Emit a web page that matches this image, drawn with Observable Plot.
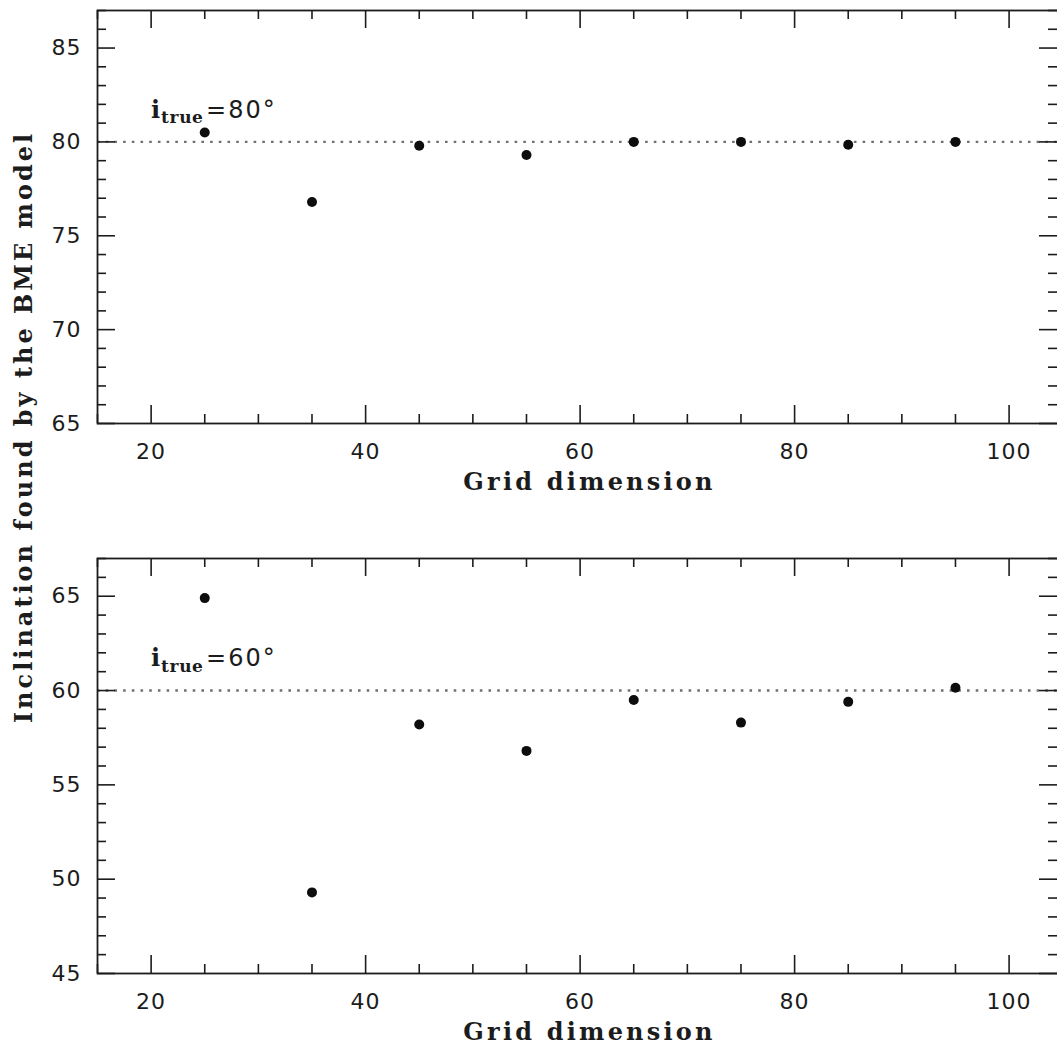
<!DOCTYPE html>
<html>
<head>
<meta charset="utf-8">
<script src="https://cdn.jsdelivr.net/npm/d3@7"></script>
<script src="https://cdn.jsdelivr.net/npm/@observablehq/plot@0.6"></script>
<style>
  body { margin: 0; background: #fff; }
  #fig { position: relative; width: 1057px; height: 1047px; overflow: hidden; background: #fff; }
  #fig > svg.plot-panel { display: block; max-width: none; }
  #ylab { position: absolute; left: 0; top: 0; z-index: 2; pointer-events: none; }
</style>
</head>
<body>
<div id="fig"></div>
<script>
// Grid dimensions tested and the inclinations recovered by the BME model
const gridDim = [25, 35, 45, 55, 65, 75, 85, 95];
const incl80 = [80.5, 76.8, 79.8, 79.3, 80.0, 80.0, 79.85, 80.0];
const incl60 = [64.9, 49.3, 58.2, 56.8, 59.5, 58.3, 59.4, 60.15];

// Axis tick values
const xTickLabels = [20, 40, 60, 80, 100];
const yTicksTop = [65, 70, 75, 80, 85];
const yTicksBottom = [45, 50, 55, 60, 65];

// the frame runs slightly past the right edge of the figure
const xDomain = [15, 104.7];
const W = 1059, ML = 97, MR = 0;
const INK = "#1c1c1c";
const serif = "'DejaVu Serif', serif";
const sans = "'DejaVu Sans', 'Liberation Sans', sans-serif";

function panel({ values, trueInc, yDomain, yTicks, marginTop, innerH, height }) {
  const marginBottom = height - marginTop - innerH;
  const innerW = W - ML - MR;
  const rows = gridDim.map((g, i) => ({ g, v: values[i] }));
  const xMajor = d3.range(20, 105, 20);
  const xMinor = d3.range(15, 105, 5).filter(d => d % 20 !== 0);
  const yMajor = d3.range(yDomain[0], yDomain[1] + 0.01, 5);
  const yMinor = d3.range(yDomain[0], yDomain[1] + 0.01, 1).filter(d => (d - yDomain[0]) % 5 !== 0);
  const tk = { stroke: INK, strokeWidth: 1.6 };
  const rightTk = { stroke: INK, strokeWidth: 1.6, dx: -2 };
  const ann = [{ x: 20, y: trueInc + 1.7 }];
  return Plot.plot({
    width: W,
    height,
    marginLeft: ML,
    marginRight: MR,
    marginTop,
    marginBottom,
    x: { domain: xDomain, axis: null },
    y: { domain: yDomain, axis: null },
    style: { background: "transparent", fontFamily: sans, fontSize: "22px", color: INK },
    marks: [
      // true inclination reference
      Plot.ruleY([trueInc], { stroke: "#707070", strokeWidth: 2.4, strokeDasharray: "2.6 6.1" }),
      // inward ticks on all four sides
      Plot.tickX(xMajor, { x: d => d, insetTop: innerH - 18, ...tk }),
      Plot.tickX(xMinor, { x: d => d, insetTop: innerH - 9, ...tk }),
      Plot.tickX(xMajor, { x: d => d, insetBottom: innerH - 18, ...tk }),
      Plot.tickX(xMinor, { x: d => d, insetBottom: innerH - 9, ...tk }),
      Plot.tickY(yMajor, { y: d => d, insetRight: innerW - 18, ...tk }),
      Plot.tickY(yMinor, { y: d => d, insetRight: innerW - 9, ...tk }),
      Plot.tickY(yMajor, { y: d => d, insetLeft: innerW - 18, ...rightTk }),
      Plot.tickY(yMinor, { y: d => d, insetLeft: innerW - 9, ...rightTk }),
      Plot.frame({ stroke: INK, strokeWidth: 1.8 }),
      // measurements
      Plot.dot(rows, { x: "g", y: "v", r: 5, fill: "#0d0d0d", stroke: "none" }),
      // tick labels
      Plot.axisX(xTickLabels, { anchor: "bottom", tickSize: 0, tickPadding: 20, label: null, fontSize: 22, fontFamily: sans, fill: INK, ariaLabel: "x-tick-labels" }),
      Plot.axisY(yTicks, { anchor: "left", tickSize: 0, tickPadding: 16, label: null, fontSize: 22, fontFamily: sans, fill: INK, ariaLabel: "y-tick-labels" }),
      // annotation i_true = N°
      Plot.text(ann, { x: "x", y: "y", text: () => "i", textAnchor: "start", fontFamily: serif, fontWeight: "bold", fontSize: 24, fill: INK }),
      Plot.text(ann, { x: "x", y: "y", text: () => "true", textAnchor: "start", dx: 10, dy: 8, fontFamily: serif, fontWeight: "bold", fontSize: 17, fill: INK }),
      Plot.text(ann, { x: "x", y: "y", text: () => "=" + trueInc + "°", textAnchor: "start", dx: 55, fontFamily: sans, fontSize: 24, fill: INK }),
      // x axis title
      Plot.text(["Grid dimension"], { frameAnchor: "bottom", dx: 11, dy: 66, text: d => d, fontFamily: serif, fontWeight: "bold", fontSize: 24, fill: INK })
    ]
  });
}

const fig = document.getElementById("fig");
const topPanel = panel({ values: incl80, trueInc: 80, yDomain: [65, 87], yTicks: yTicksTop, marginTop: 10, innerH: 413, height: 540 });
const bottomPanel = panel({ values: incl60, trueInc: 60, yDomain: [45, 67], yTicks: yTicksBottom, marginTop: 18, innerH: 415, height: 507 });
topPanel.classList.add("plot-panel");
bottomPanel.classList.add("plot-panel");
fig.appendChild(topPanel);
fig.appendChild(bottomPanel);

// text styling: tick label size, letter spacing on titles and labels
const tickNums = new Set([...xTickLabels, ...yTicksTop, ...yTicksBottom].map(String));
for (const svg of [topPanel, bottomPanel]) {
  svg.querySelectorAll("text").forEach(el => {
    const s = el.textContent;
    if (s === "Grid dimension") el.setAttribute("letter-spacing", "3.2");
    else if (s === "true") el.setAttribute("letter-spacing", "0.6");
    else if (s.startsWith("=")) el.setAttribute("letter-spacing", "2");
    else if (tickNums.has(s)) {
      el.style.fontSize = "22px";
      el.style.fontFamily = sans;
      el.setAttribute("letter-spacing", "1");
    }
  });
}

// shared y-axis title spanning both panels
const ns = "http://www.w3.org/2000/svg";
const ylab = document.createElementNS(ns, "svg");
ylab.setAttribute("id", "ylab");
ylab.setAttribute("width", 60);
ylab.setAttribute("height", 1047);
const yt = document.createElementNS(ns, "text");
yt.setAttribute("transform", "translate(32,427) rotate(-90)");
yt.setAttribute("text-anchor", "middle");
yt.setAttribute("font-family", "DejaVu Serif, serif");
yt.setAttribute("font-weight", "bold");
yt.setAttribute("font-size", 24);
yt.setAttribute("letter-spacing", 3);
yt.setAttribute("fill", INK);
yt.textContent = "Inclination found by the BME model";
ylab.appendChild(yt);
fig.appendChild(ylab);
</script>
</body>
</html>
